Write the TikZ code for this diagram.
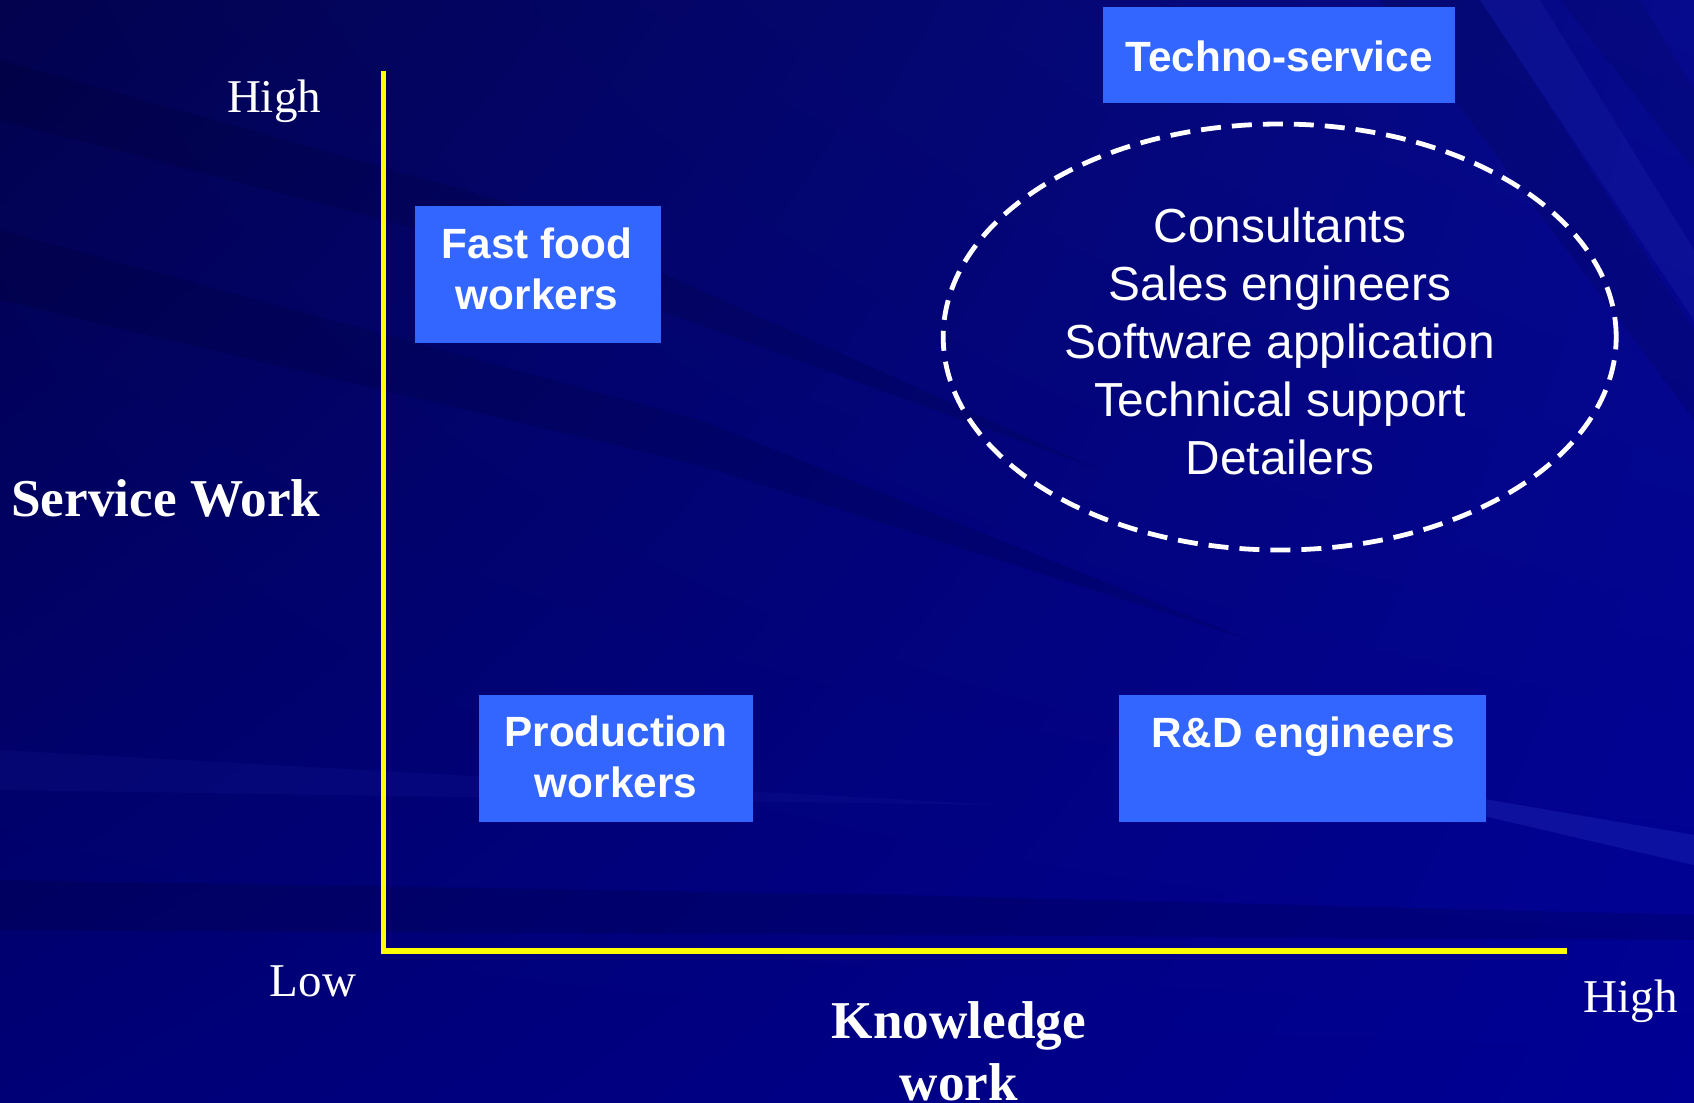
\documentclass[tikz,border=0pt]{standalone}
\usepackage{fontspec}
\setmainfont{Liberation Serif}
\newfontfamily\arialf{Liberation Sans}
\usetikzlibrary{shapes.geometric,shadings}
\definecolor{boxblue}{RGB}{51,102,255}
\definecolor{axisyellow}{RGB}{255,255,0}
\definecolor{bgUL}{RGB}{2,2,78}
\definecolor{bgUR}{RGB}{6,10,140}
\definecolor{bgLL}{RGB}{0,0,118}
\definecolor{bgLR}{RGB}{0,0,148}
\definecolor{streaklight}{RGB}{90,110,255}
\begin{document}
\begin{tikzpicture}[x=0.5pt,y=-0.5pt,
  boxf/.style={fill=boxblue, draw=none, inner sep=0pt, outer sep=0pt},
  boxtext/.style={text=white, font=\arialf\bfseries\fontsize{21.15}{25.5}\selectfont, align=center, inner sep=0pt},
  roletext/.style={text=white, font=\arialf\fontsize{23.9}{28.9}\selectfont, align=center, inner sep=0pt},
  axlabel/.style={text=white, font=\fontsize{23.5}{28}\selectfont, inner sep=0pt},
  axtitle/.style={text=white, font=\bfseries\fontsize{26.6}{31}\selectfont, inner sep=0pt, align=center},
  axisline/.style={draw=axisyellow, line width=2.75pt},
  dashring/.style={ellipse, draw=white, line width=2.4pt, dash pattern=on 10pt off 5.5pt, inner sep=0pt}]
\useasboundingbox (0,0) rectangle (1694,1103);
% background
\shade[upper left=bgUL, upper right=bgUR, lower left=bgLL, lower right=bgLR] (0,0) rectangle (1694,1103);
\fill[black, fill opacity=0.10] (0,230) -- (700,420) -- (1250,640) -- (700,465) -- (0,300) -- cycle;
\fill[black, fill opacity=0.10] (0,60) -- (500,200) -- (1100,470) -- (480,245) -- (0,120) -- cycle;
\fill[black, fill opacity=0.12] (0,880) -- (900,895) -- (1694,915) -- (1694,940) -- (900,935) -- (0,930) -- cycle;
\fill[black, fill opacity=0.10] (1380,0) -- (1480,0) -- (1694,330) -- (1694,420) -- cycle;
\fill[black, fill opacity=0.08] (1560,0) -- (1640,0) -- (1694,90) -- (1694,170) -- cycle;
\fill[streaklight, fill opacity=0.08] (1480,0) -- (1540,0) -- (1694,250) -- (1694,320) -- cycle;
\fill[streaklight, fill opacity=0.14] (1200,750) -- (1694,835) -- (1694,865) -- cycle;
\fill[streaklight, fill opacity=0.05] (0,750) -- (1000,805) -- (0,790) -- cycle;
% axes
\coordinate (ytop) at (383.5,71);
\coordinate (origin) at (383.5,951);
\coordinate (xend) at (1567,951);
\draw[axisline] (ytop) -- (origin) -- (xend);
% axis labels
\node[axlabel, anchor=base] (yhigh) at (274,112.4) {High};
\node[axlabel, anchor=base] (low) at (313,996) {Low};
\node[axlabel, anchor=base] (xhigh) at (1630.5,1012) {High};
\node[axtitle, anchor=base west] (ytitle) at (11,516.5) {Service Work};
\node[axtitle, anchor=north] (xtitle) at (959,1001) {Knowledge\\work};
% boxes
\node[boxf, minimum width=176pt, minimum height=48pt] (techno) at (1279,54.5) {};
\node[boxtext, anchor=base] (technot) at (techno.center |- 0,71) {Techno-service};
\node[boxf, minimum width=123pt, minimum height=68.25pt] (fast) at (538,274.3) {};
\node[boxtext] (fastt) at (537,268.5) {Fast food\\workers};
\node[boxf, minimum width=137.2pt, minimum height=63.65pt] (prod) at (615.8,758.4) {};
\node[boxtext] (prodt) at (616,756.8) {Production\\workers};
\node[boxf, minimum width=183.25pt, minimum height=63.65pt] (rd) at (1302.3,758.4) {};
\node[boxtext, anchor=base] (rdt) at (1303,747) {R\&D engineers};
% ellipse
\node[dashring, minimum width=336.5pt, minimum height=213pt] (ring) at (1279.7,337) {};
\node[roletext] (roles) at (1280,341.5) {Consultants\\Sales engineers\\Software application\\Technical support\\Detailers};
\end{tikzpicture}
\end{document}
